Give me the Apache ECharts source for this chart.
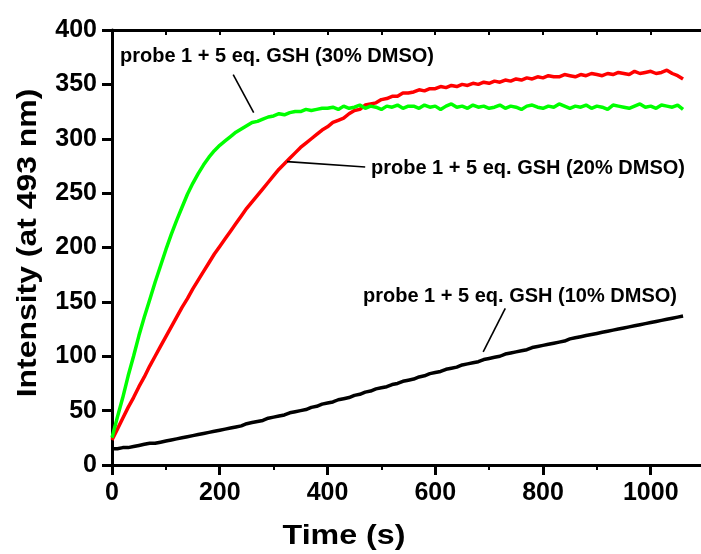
<!DOCTYPE html>
<html><head><meta charset="utf-8">
<script src="https://cdn.jsdelivr.net/npm/echarts@6/dist/echarts.min.js"></script>
<style>html,body{margin:0;padding:0;background:#fff}#c{width:701px;height:554px}</style>
</head><body><div id="c"></div>
<script>
// Time (s)
const time = [
  0,10,20,30,40,50,60,70,80,90,
  100,110,120,130,140,150,160,170,180,190,
  200,210,220,230,240,250,260,270,280,290,
  300,310,320,330,340,350,360,370,380,390,
  400,410,420,430,440,450,460,470,480,490,
  500,510,520,530,540,550,560,570,580,590,
  600,610,620,630,640,650,660,670,680,690,
  700,710,720,730,740,750,760,770,780,790,
  800,810,820,830,840,850,860,870,880,890,
  900,910,920,930,940,950,960,970,980,990,
  1000,1010,1020,1030,1040,1050,1060
];
// probe 1 + 5 eq. GSH (10% DMSO)
const dmso10 = [
  15,15,16,16,17,18,19,20,20,21,
  22,23,24,25,26,27,28,29,30,31,
  32,33,34,35,36,38,39,40,41,43,
  44,45,46,48,49,50,51,53,54,56,
  57,58,60,61,62,64,65,67,68,70,
  71,72,74,75,77,78,79,81,82,84,
  85,86,88,89,90,92,93,94,95,97,
  98,99,100,102,103,104,105,106,108,109,
  110,111,112,113,114,116,117,118,119,120,
  121,122,123,124,125,126,127,128,129,130,
  131,132,133,134,135,136,137
];
// probe 1 + 5 eq. GSH (20% DMSO)
const dmso20 = [
  23,33,43,53,62,72,81,91,100,109,
  118,127,136,145,153,162,170,178,186,194,
  201,208,215,222,229,236,242,248,254,260,
  266,272,277,282,287,292,296,300,304,308,
  311,315,317,319,323,326,327,331,332,333,
  336,337,339,339,342,342,343,345,344,346,
  346,348,347,349,348,350,349,351,350,352,
  351,353,352,354,353,355,354,356,355,357,
  356,358,357,357,359,358,357,359,358,360,
  359,358,360,359,361,360,359,362,360,361,
  362,360,361,363,360,358,355
];
// probe 1 + 5 eq. GSH (30% DMSO)
const dmso30 = [
  25,44,62,82,100,119,136,152,168,183,
  198,212,225,237,249,259,268,276,283,289,
  294,298,302,306,309,312,315,316,318,320,
  321,323,322,324,325,325,327,326,327,328,
  328,329,327,330,328,329,331,328,330,329,
  327,330,329,331,328,330,330,328,331,329,
  330,327,330,332,329,330,328,331,329,330,
  328,329,331,328,330,329,327,330,331,329,
  328,330,329,332,330,328,330,329,331,328,
  330,329,327,331,330,329,328,330,332,329,
  330,328,331,330,329,331,327
];
const xTickLabels = [0,200,400,600,800,1000];
const yTickLabels = [0,50,100,150,200,250,300,350,400];
const seriesNames = [
  'probe 1 + 5 eq. GSH (10% DMSO)',
  'probe 1 + 5 eq. GSH (20% DMSO)',
  'probe 1 + 5 eq. GSH (30% DMSO)'
];
// connector lines of the annotations, in data units [t, intensity]
const connector10 = [[730,144],[689,104]];
const connector20 = [[325,279],[470,274]];
const connector30 = [[225,359],[263,324]];

const pairs = vals => time.map((t,i)=>[t, vals[i]]);
const FONT = '"Liberation Sans", Arial, sans-serif';
const chart = echarts.init(document.getElementById('c'), null, {renderer:'canvas'});
const lineMark = (c) => ({
  silent:true, symbol:['none','none'], animation:false,
  label:{show:false},
  lineStyle:{color:'#000', width:1.6, type:'solid'},
  data:[[{coord:c[0]},{coord:c[1]}]]
});
const axisTextStyle = {color:'#000', fontFamily:FONT, fontWeight:'bold', fontSize:25};
chart.setOption({
  animation:false,
  backgroundColor:'#fff',
  grid:{left:112, top:30, width:592.6, height:435, outerBoundsMode:'none'},
  xAxis:[{
    type:'value', min:0, max:1100, interval:200, position:'bottom',
    axisLine:{show:true, lineStyle:{color:'#000', width:3}},
    axisTick:{show:true, inside:false, length:10, lineStyle:{color:'#000', width:3}},
    minorTick:{show:true, splitNumber:2, length:5, lineStyle:{color:'#000', width:2}},
    axisLabel:Object.assign({margin:16, showMaxLabel:false,
      formatter:v => xTickLabels.includes(v) ? String(v) : ''}, axisTextStyle),
    splitLine:{show:false}, minorSplitLine:{show:false}
  },{
    type:'value', min:0, max:1100, interval:100, position:'top',
    axisLine:{show:true, onZero:false, lineStyle:{color:'#000', width:3}},
    axisTick:{show:true, inside:true, length:5, lineStyle:{color:'#000', width:2}},
    axisLabel:{show:false}, splitLine:{show:false}
  }],
  yAxis:{
    type:'value', min:0, max:400, interval:50,
    axisLine:{show:true, lineStyle:{color:'#000', width:3}},
    axisTick:{show:true, inside:false, length:10, lineStyle:{color:'#000', width:3}},
    axisLabel:Object.assign({margin:15,
      formatter:v => yTickLabels.includes(v) ? String(v) : ''}, axisTextStyle),
    splitLine:{show:false}
  },
  series:[
    {name:seriesNames[0], type:'line', data:pairs(dmso10), showSymbol:false, symbol:'none',
     lineStyle:{color:'#000000', width:3.5}, itemStyle:{color:'#000'},
     markLine:{...lineMark(connector10)}},
    {name:seriesNames[1], type:'line', data:pairs(dmso20), showSymbol:false, symbol:'none',
     lineStyle:{color:'#ff0000', width:3.5}, itemStyle:{color:'#ff0000'},
     markLine:{...lineMark(connector20)}},
    {name:seriesNames[2], type:'line', data:pairs(dmso30), showSymbol:false, symbol:'none',
     lineStyle:{color:'#00ff00', width:3.5}, itemStyle:{color:'#00ff00'},
     markLine:{...lineMark(connector30)}}
  ],
  graphic:[
    {type:'text', left:120, top:46, style:{text:seriesNames[2], fill:'#000', font:'bold 20px '+FONT}},
    {type:'text', left:371, top:158, style:{text:seriesNames[1], fill:'#000', font:'bold 20px '+FONT}},
    {type:'text', left:363, top:286, style:{text:seriesNames[0], fill:'#000', font:'bold 20px '+FONT}},
    {type:'text', x:344, y:536, scaleX:1.15, style:{text:'Time (s)', fill:'#000', font:'bold 28px '+FONT, align:'center', verticalAlign:'middle'}},
    {type:'text', x:28, y:243, rotation:Math.PI/2, scaleX:1.14, style:{text:'Intensity (at 493 nm)', fill:'#000', font:'bold 28px '+FONT, align:'center', verticalAlign:'middle'}}
  ]
});
</script></body></html>
